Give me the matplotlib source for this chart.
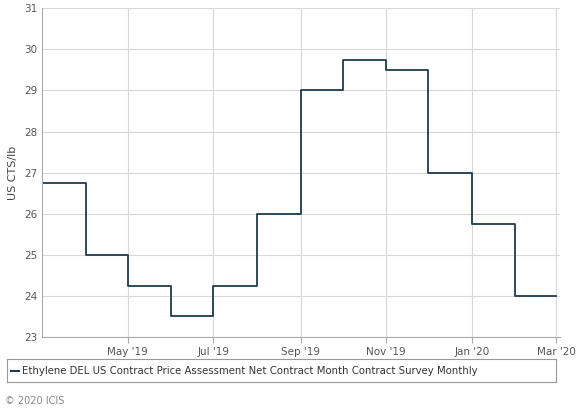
import matplotlib
matplotlib.use("Agg")
import matplotlib.pyplot as plt
import matplotlib.dates as mdates
import pandas as pd

months = ["2019-03","2019-04","2019-05","2019-06","2019-07","2019-08","2019-09",
          "2019-10","2019-11","2019-12","2020-01","2020-02","2020-03"]
values = [26.75,25.0,24.25,23.5,24.25,26.0,29.0,29.75,29.5,27.0,25.75,24.0,24.0]
tick_dates = ["2019-05","2019-07","2019-09","2019-11","2020-01","2020-03"]
tick_labels = ["May '19","Jul '19","Sep '19","Nov '19","Jan '20","Mar '20"]

d = pd.to_datetime(months)
fig = plt.figure(figsize=(5.76,4.12), dpi=100)
ax = fig.add_axes([0.073, 0.182, 0.9, 0.798])
ax.step(d, values, where="post", color="#1f3b4d", lw=1.3)
ax.set_xlim(d[0], pd.Timestamp("2020-03-04"))
ax.set_ylim(23, 31)
ax.set_yticks(range(23, 32))
ax.set_xticks(pd.to_datetime(tick_dates))
ax.set_xticklabels(tick_labels)
ax.grid(True, color="#d8d8d8", lw=0.8)
ax.tick_params(labelsize=7.5, colors="#555555", length=0)
ax.tick_params(axis="x", length=4, color="#aaaaaa")
for s in ["top","right"]:
    ax.spines[s].set_visible(False)
for s in ["left","bottom"]:
    ax.spines[s].set_color("#aaaaaa")
ax.set_ylabel("US CTS/lb", fontsize=8, color="#444444")

lax = fig.add_axes([0.012, 0.073, 0.953, 0.055])
lax.set_xticks([]); lax.set_yticks([])
for s in lax.spines.values():
    s.set_color("#999999")
lax.plot([0.008, 0.022], [0.5, 0.5], color="#1f3b4d", lw=1.5)
lax.set_xlim(0, 1); lax.set_ylim(0, 1)
lax.text(0.027, 0.5, "Ethylene DEL US Contract Price Assessment Net Contract Month Contract Survey Monthly",
         va="center", fontsize=7.3, color="#333333")
fig.text(0.008, 0.02, "© 2020 ICIS", fontsize=7, color="#888888")
fig.savefig("out.png")
